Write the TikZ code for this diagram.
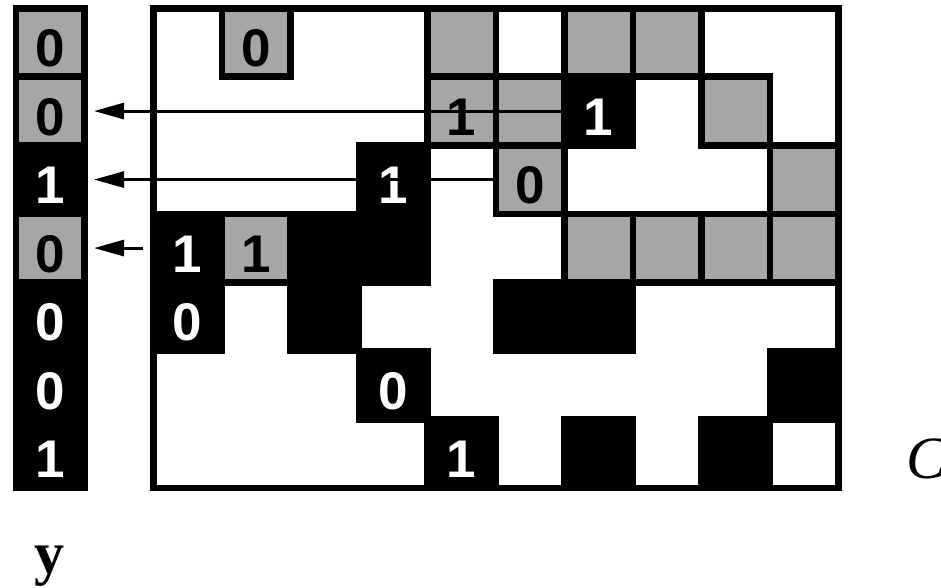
\documentclass[tikz,border=0pt]{standalone}
\usepackage{fontspec}
\setmainfont{Liberation Sans}
\newfontfamily\lserif{Liberation Serif}
\usetikzlibrary{arrows.meta,calc}
\definecolor{cellgray}{RGB}{166,166,166}
\begin{document}
\begin{tikzpicture}[x=1pt,y=-1pt,
  cellbase/.style={minimum size=68.5pt, inner sep=0pt, outer sep=0pt, line width=6.6pt, draw=black},
  graycell/.style={cellbase, fill=cellgray},
  blackcell/.style={cellbase, fill=black},
  digit/.style={inner sep=0pt, outer sep=0pt, font=\fontsize{53}{53}\selectfont\bfseries},
  pointer/.style={line width=3pt, -{Triangle[length=30pt,width=16pt]}},
  biglabel/.style={inner sep=0pt, outer sep=0pt, font=\fontsize{60}{60}\selectfont\lserif}
]
\path[use as bounding box] (0,0) rectangle (941,588);
\fill[white] (0,0) rectangle (941,588);
% matrix background
\node[minimum width=685pt, minimum height=479.5pt, inner sep=0pt, outer sep=0pt, fill=white] (mat) at (495.8,248.05) {};
% matrix cells: black first, then gray
\foreach \r/\c in {1/6, 2/3, 3/0, 3/2, 3/3, 4/0, 4/2, 4/5, 4/6, 5/3, 5/9, 6/4, 6/6, 6/8}
  \node[blackcell] (m-\r-\c) at ({153.3+68.5*(\c+0.5)},{8.3+68.5*(\r+0.5)}) {};
\foreach \r/\c in {0/1, 0/4, 0/6, 0/7, 1/4, 1/5, 1/8, 2/5, 2/9, 3/1, 3/6, 3/7, 3/8, 3/9}
  \node[graycell] (m-\r-\c) at ({153.3+68.5*(\c+0.5)},{8.3+68.5*(\r+0.5)}) {};
\draw[line width=6.6pt] (mat.north west) rectangle (mat.south east);
% matrix digits
\foreach \r/\c/\col/\t in {0/1/black/0, 1/4/black/1, 1/6/white/1, 2/3/white/1, 2/5/black/0,
    3/0/white/1, 3/1/black/1, 4/0/white/0, 5/3/white/0, 6/4/white/1}
  \node[digit, text=\col] (t-\r-\c) at ($(m-\r-\c.center)+(0,6)$) {\t};
% vector y
\foreach \r/\k/\col/\t in {0/graycell/black/0, 1/graycell/black/0, 2/blackcell/white/1,
    3/graycell/black/0, 4/blackcell/white/0, 5/blackcell/white/0, 6/blackcell/white/1}{
  \node[\k] (v-\r) at (50.3,{8.3+68.5*(\r+0.5)}) {};
  \node[digit, text=\col] (vt-\r) at ($(v-\r.center)+(0,6)$) {\t};
}
% arrows
\coordinate (a3) at (143,248.05);
\draw[pointer] (m-1-6.west) -- ([xshift=9.5pt]v-1.east);
\draw[pointer] (m-2-5.west) -- ([xshift=9.5pt]v-2.east);
\draw[pointer] (a3) -- ([xshift=9.5pt]v-3.east);
% labels
\node[biglabel, anchor=base] (ylab) at (49.5,573) {\bfseries y};
\node[biglabel, anchor=base west] (clab) at (906,478.5) {\itshape C};
\end{tikzpicture}
\end{document}
